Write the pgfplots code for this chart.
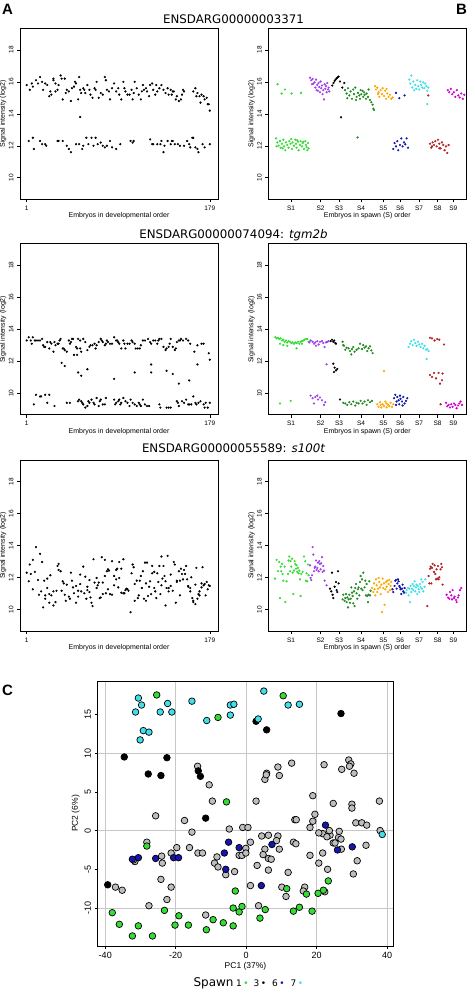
\documentclass[border=0pt]{standalone}
\usepackage{pgfplots}
\pgfplotsset{compat=1.18}
\usepackage{fontspec}
\setmainfont{Liberation Sans}
\newfontfamily\djv{DejaVu Sans}
\definecolor{sA}{HTML}{33DD33}
\definecolor{sB}{HTML}{A040E8}
\definecolor{sD}{HTML}{228B22}
\definecolor{sE}{HTML}{FFA500}
\definecolor{sF}{HTML}{1515B0}
\definecolor{sG}{HTML}{3FE0EC}
\definecolor{sH}{HTML}{B22222}
\definecolor{sI}{HTML}{CD00CD}
\definecolor{pcgrey}{HTML}{BEBEBE}

\pgfplotsset{
  sig/.style={scale only axis, width=198pt, height=171pt, anchor=south west,
    ymin=8.65, ymax=19.35, ytick={10,12,14,16,18}, yticklabels={10,12,14,16,18},
    tick align=outside, xtick pos=bottom, ytick pos=left,
    major tick length=3pt,
    axis line style={line width=0.8pt},
    every tick/.style={black, line width=0.5pt},
    tick label style={font=\fontsize{6.5}{7}\selectfont},
    yticklabel style={rotate=90, anchor=south},
    label style={font=\fontsize{7}{8}\selectfont},
    ylabel={Signal intensity (log2)},
    ylabel style={at={(axis description cs:-0.085,0.5)}, anchor=center},
    xlabel style={at={(axis description cs:0.5,-0.098)}, anchor=center}},
  dev/.style={sig, xmin=-5.5, xmax=187, xtick={1,179}, xticklabels={1,179},
    xlabel={Embryos in developmental order}},
  spw/.style={sig, xmin=0, xmax=198,
    xtick={22.7,52.3,70.7,92.7,115,131.7,150.7,169.3,185},
    xticklabels={S1,S2,S3,S4,S5,S6,S7,S8,S9},
    xlabel={Embryos in spawn (S) order}},
  dot/.style={only marks, mark=*, mark size=0.9pt, color=#1,
    mark options={draw=#1, fill=#1}},
  dot/.default=black,
  pc/.style={only marks, mark=*, mark size=3.3pt,
    mark options={draw=black, line width=0.7pt, fill=#1}},
}

\begin{document}
\begin{tikzpicture}[x=1pt,y=1pt]
\useasboundingbox (0,0) rectangle (467,-990);

% ---------- row 1 ----------
\node[font=\bfseries\fontsize{15}{16}\selectfont] at (7.5,-9.5) {A};
\node[font=\bfseries\fontsize{15}{16}\selectfont] at (461.5,-9.5) {B};
\node[font=\djv\fontsize{11.8}{13}\selectfont] at (233.5,-19) {ENSDARG00000003371};

\begin{axis}[dev, at={(20pt,-199.3pt)}]
\addplot[dot] coordinates {
(1,15.8)(4,15.5)(6,15.9)(7,15.7)(10,16.1)(12,15.9)(14,16.3)(16,16.0)(17,15.5)(19,15.9)
(21,15.8)(23,15.1)(24,15.4)(25,15.2)(27,16.1)(27,16.2)(29,15.4)(29,15.9)(31,15.5)(32,15.8)
(34,16.4)(35,16.2)(36,14.9)(38,16.2)(39,15.3)(40,15.5)(42,15.4)(44,14.8)(45,15.6)(47,15.7)
(48,16.0)(49,15.9)(51,14.9)(52,16.3)(53,15.5)(54,15.3)(56,15.6)(57,15.5)(58,15.3)(60,15.8)
(62,15.5)(63,15.2)(65,15.0)(67,15.6)(68,15.5)(69,16.0)(71,15.0)(73,15.3)(75,15.2)(77,16.3)
(78,16.1)(79,15.5)(81,15.4)(82,14.9)(84,15.6)(86,15.9)(88,15.4)(90,15.6)(91,15.2)(93,14.9)
(95,16.0)(96,15.6)(97,15.4)(99,15.2)(101,15.2)(103,15.5)(104,14.9)(105,15.3)(106,16.0)(108,15.6)
(110,15.2)(112,14.9)(113,15.4)(114,15.8)(115,15.5)(117,15.6)(118,15.4)(120,15.1)(121,15.8)(123,15.9)
(124,15.5)(126,15.2)(127,15.8)(128,15.4)(130,15.6)(132,15.8)(134,15.5)(136,15.3)(138,15.6)(139,15.2)
(141,15.5)(142,15.2)(143,15.4)(144,15.4)(146,14.9)(147,15.1)(149,14.8)(151,14.9)(152,15.2)(153,15.5)
(154,15.4)(163,15.4)(165,15.6)(166,15.1)(167,15.3)(169,15.1)(170,14.7)(171,15.2)(173,15.1)(174,14.9)
(176,15.0)(177,14.6)(178,14.6)(179,14.2)(53,13.8)
(3,12.3)(7,12.5)(8,11.8)(14,12.3)(16,12.1)(19,12.1)(20,12.0)(31,12.3)(32,12.3)(36,12.3)
(40,12.0)(42,11.8)(44,11.6)(49,12.1)(52,12.1)(55,11.8)(56,12.0)(59,12.5)(61,12.1)(64,12.5)
(66,12.0)(68,12.5)(70,12.1)(73,12.2)(75,12.0)(77,11.9)(79,12.0)(82,12.3)(84,11.9)(88,11.8)
(92,12.1)(102,12.3)(104,12.2)(105,12.3)(121,12.4)(123,12.1)(124,12.1)(128,12.1)(131,12.1)(132,12.3)
(134,11.6)(135,12.0)(138,12.3)(141,12.1)(142,12.3)(143,12.3)(145,12.1)(148,12.1)(150,12.0)(154,12.0)
(157,12.3)(159,12.1)(160,11.9)(162,12.5)(163,12.5)(165,11.9)(167,11.8)(168,11.6)(172,12.1)(174,11.9)
(179,12.1)
};
\end{axis}

\begin{axis}[spw, at={(268.3pt,-199.3pt)}]
\addplot[dot=sA] coordinates {
(9.3,15.85)(13.3,15.27)(16.7,15.52)(23.3,15.27)(32.7,15.31)
(7.7,12.46)(9,12.21)(10.3,12.01)(11.7,12.29)(12.3,11.88)(13.7,12.13)(15,12.38)(15.7,11.96)(17,11.72)
(17.7,12.21)(19,12.05)(20.3,11.88)(21,12.29)(22.3,12.13)(23.7,11.80)(24.3,12.21)(25.7,12.01)(27,12.38)
(27.7,12.13)(28.3,11.88)(29.7,12.25)(30.3,11.72)(31.7,12.05)(32.3,12.29)(33.7,11.96)(34.3,12.17)
(35.7,11.80)(37,12.29)(37.7,12.05)(38.3,11.92)(39.7,12.17)(40.3,11.84)(8.3,11.96)(14.3,11.84)
(23,12.42)(29,12.34)(35,12.25)(39,11.72)
};
\addplot[dot=sB] coordinates {
(41.7,16.26)(43,16.10)(44.3,16.18)(45,15.89)(46.3,15.97)(47,15.64)(47.7,16.14)(49,15.81)(49.7,15.44)
(50.3,15.93)(51,15.68)(51.7,15.35)(52.3,16.02)(53,15.60)(53.7,15.77)(54.3,15.23)(55,15.48)(55.7,14.90)
(56.3,15.85)(57,15.56)(57.7,15.73)(58.3,15.35)(59,15.93)(59.7,15.52)(60.3,15.64)(61,15.40)(43.7,15.85)
(48.3,15.48)
};
\addplot[dot] coordinates {
(64,15.77)(65.3,15.93)(66.3,16.06)(67.3,16.14)(68.3,16.22)(69.3,16.28)(70.3,16.33)(71.7,16.02)
(74,15.64)(76,15.93)(72.7,13.78)
};
\addplot[dot=sD] coordinates {
(76.7,15.48)(78.3,15.27)(79.7,15.60)(81,15.15)(82.3,15.40)(83.7,14.94)(85,15.52)(85.7,15.23)(87,15.64)
(88.3,15.06)(89.7,15.31)(91,15.15)(91.7,14.94)(93,15.23)(94.3,15.44)(95,15.06)(96.3,15.19)(97.7,14.94)
(98.3,15.27)(99.7,15.06)(100.3,15.52)(101.7,14.86)(103,14.73)(104.3,14.57)(105,14.32)(105.7,14.24)
(87.7,14.86)(92.3,15.48)(95.7,15.35)(79,14.98)(89.3,12.52)
};
\addplot[dot=sE] coordinates {
(106.7,15.73)(107.7,15.52)(109,15.64)(110.3,15.35)(111,15.06)(112.3,15.48)(113.7,15.23)(114.3,15.60)
(115.7,15.11)(117,15.44)(117.7,14.94)(119,15.27)(120.3,15.06)(121.7,15.19)(123,14.94)(124.3,15.02)
(109.7,15.23)(118.3,15.56)
};
\addplot[dot=sF] coordinates {
(127.7,15.31)(131,14.98)(136.3,15.15)
(125,11.80)(126.3,12.17)(127.7,11.96)(129,12.29)(130,11.72)(131.7,12.05)(133,12.46)(134.3,11.96)
(135.7,12.21)(137,12.09)(138.3,12.46)(139.7,11.88)
};
\addplot[dot=sG] coordinates {
(141,16.14)(142,15.89)(143,16.39)(144,15.64)(145,16.02)(146,15.48)(147,15.81)(148,15.56)(149,16.10)
(150,15.73)(151,15.52)(152,16.02)(153,15.81)(154,15.64)(155,15.97)(156,15.60)(157,15.89)(158,15.73)
(159,15.44)(160,15.64)(159,14.61)
};
\addplot[dot=sH] coordinates {
(160,15.15)
(161.7,12.13)(163,11.88)(164.3,12.21)(165.7,12.05)(167,12.29)(168.3,11.96)(169.7,12.38)(171,12.13)
(172.3,11.84)(173.7,12.21)(175,12.05)(176.3,11.72)(177.7,11.96)(179,11.55)(180.3,12.05)(163.7,11.96)
(171,11.84)
};
\addplot[dot=sI] coordinates {
(179.5,15.48)(181,15.35)(182.5,15.56)(184,15.23)(185.5,15.35)(187,15.06)(188.5,15.48)(190,15.15)
(191.5,15.02)(193,15.27)(194.5,14.94)(196,15.19)
};
\end{axis}

% ---------- row 2 ----------
\node[font=\djv\fontsize{11.8}{13}\selectfont] at (233.5,-235) {ENSDARG00000074094: \itshape tgm2b};

\begin{axis}[dev, at={(20pt,-414.8pt)}]
\addplot[dot] coordinates {
(1,13.3)(3,13.5)(5,13.3)(6,13.1)(7,13.5)(9,13.3)(10,13.3)(12,13.3)(14,13.3)(16,13.4)
(17,13.0)(18,12.9)(19,12.9)(21,13.2)(23,12.8)(24,13.2)(25,13.1)(27,12.6)(28,13.2)(29,13.0)
(31,13.1)(32,13.1)(33,13.3)(34,13.4)(36,12.8)(37,12.8)(38,12.7)(40,12.6)(42,13.3)(43,13.1)
(44,13.2)(45,13.4)(46,13.4)(47,12.4)(49,12.9)(50,12.8)(51,13.4)(53,13.3)(53,12.8)(54,12.6)
(56,13.4)(58,13.2)(60,12.7)(62,12.9)(63,13.0)(65,13.0)(67,13.1)(68,12.8)(69,13.0)(71,13.2)
(73,13.4)(74,13.3)(75,13.2)(77,13.0)(78,13.1)(79,13.3)(80,13.2)(82,13.1)(84,13.1)(86,13.5)
(88,13.3)(89,13.3)(90,13.2)(91,13.1)(93,12.8)(95,13.3)(96,13.1)(97,12.8)(99,13.1)(101,13.1)
(103,13.3)(104,13.2)(106,13.1)(107,12.8)(109,12.8)(111,12.8)(112,13.0)(114,13.3)(116,13.3)(119,13.4)
(121,13.2)(122,13.1)(124,13.3)(126,13.3)(128,13.1)(129,13.3)(130,13.4)(132,13.4)(134,12.9)(136,12.7)
(137,12.8)(139,12.9)(140,13.1)(141,13.4)(143,12.9)(145,12.7)(146,12.8)(147,13.2)(149,13.3)(150,13.3)
(151,13.4)(153,13.3)(156,13.4)(158,13.3)(160,13.1)(164,12.6)(167,13.0)(171,13.1)(173,13.1)(178,12.5)
(179,12.1)
(35,11.9)(38,11.7)(50,12.4)(51,11.3)(54,11.1)(60,11.5)(86,10.9)(106,11.3)(122,11.8)(122,11.3)
(137,11.4)(143,11.2)(149,10.6)(159,10.8)(167,11.8)
(8,9.3)(10,9.9)(14,9.8)(15,9.8)(19,9.9)(21,9.4)(23,9.9)(28,9.2)(40,9.4)(43,9.4)
(51,9.5)(52,9.6)(54,9.5)(55,9.4)(56,9.3)(58,9.1)(60,9.2)(61,9.5)(62,9.4)(64,9.6)
(66,9.4)(67,9.3)(69,9.7)(71,9.2)(72,9.5)(73,9.6)(75,9.3)(77,9.3)(78,9.7)(86,9.6)
(87,9.3)(88,9.4)(90,9.5)(91,9.6)(92,9.3)(93,9.4)(95,9.7)(97,9.5)(99,9.4)(101,9.2)
(102,9.6)(104,9.4)(106,9.3)(108,9.2)(110,9.4)(111,9.3)(112,9.2)(114,9.6)(116,9.3)(118,9.2)
(120,9.2)(130,9.3)(131,9.1)(137,9.1)(139,9.1)(141,9.1)(147,9.5)(148,9.4)(149,9.2)(152,9.5)
(154,9.4)(156,9.6)(158,9.3)(159,9.3)(161,9.3)(163,9.8)(165,9.4)(166,9.3)(168,9.4)(170,9.5)
(173,9.3)(174,9.1)(175,9.4)(177,9.1)(179,9.4)
};
\end{axis}

\begin{axis}[spw, at={(268.3pt,-414.8pt)}]
\addplot[dot=sA] coordinates {
(7,13.51)(8.3,13.43)(9.7,13.47)(11,13.39)(12.3,13.43)(13.7,13.30)(15,13.35)(16.3,13.22)(17.7,13.30)
(19,13.18)(20.3,13.26)(21.7,13.22)(23,13.14)(24.3,13.18)(25.7,13.10)(27,13.18)(28.3,13.14)(29.7,13.22)
(31,13.10)(32.3,13.22)(33.7,13.26)(35,13.30)(36.3,13.35)(37.7,13.39)(39,13.39)(15,13.01)(19,12.97)
(11.7,13.10)(28.3,12.81)(33.7,13.10)(40.3,13.22)
(11.7,9.36)(22.3,9.52)
};
\addplot[dot=sB] coordinates {
(41,13.18)(42.3,13.30)(44.3,13.22)(45.7,13.10)(47,13.18)(47.7,12.97)(49,13.26)(50.3,13.05)(51.7,13.22)
(53.7,13.26)(55,13.14)(56.3,12.89)(57.7,13.18)(59,13.22)(60.3,13.26)
(58.3,11.81)
(42.3,9.85)(44.3,9.69)(45.7,9.36)(47,9.77)(49.7,9.61)(51.7,9.73)(53.7,9.56)(55.7,9.27)(57,9.44)(49,9.85)
};
\addplot[dot] coordinates {
(62.3,13.26)(63.7,13.35)(65,13.22)(66,13.30)(67,13.14)(67.7,13.10)
(65,11.85)(66.3,11.60)(67.7,11.43)(69,11.52)(65.7,11.33)(71.7,9.61)
};
\addplot[dot=sD] coordinates {
(74.3,13.22)(75.7,12.97)(77,12.72)(78.3,12.85)(80.3,12.81)(81.7,12.64)(83.7,12.76)(85,12.89)(86.3,12.60)
(88.3,12.72)(90.3,12.81)(91.7,13.10)(93.7,12.76)(95,13.01)(96.3,12.85)(97.7,12.93)(99,12.64)(100.3,12.81)
(101.7,12.93)(103,12.68)(104.3,12.51)(83,12.43)(75,13.01)
(75,9.40)(77,9.36)(79,9.27)(81,9.44)(83,9.31)(85,9.48)(87,9.23)(88.3,9.40)(90.3,9.36)(92.3,9.52)
(94.3,9.36)(96.3,9.48)(98.3,9.27)(99.7,9.56)(101.7,9.44)(103.7,9.52)
};
\addplot[dot=sE] coordinates {
(109,9.31)(110.3,9.15)(111.7,9.44)(113,9.11)(114.3,9.31)(115.7,9.19)(117,9.48)(118.3,9.11)(119.7,9.27)
(121,9.19)(122.3,9.40)(123.7,9.15)(125,9.31)(112.3,9.27)(118.3,9.36)(115.7,11.39)
};
\addplot[dot=sF] coordinates {
(125.7,9.69)(127,9.90)(128.3,9.48)(129,9.77)(130.3,9.56)(131,9.31)(132.3,9.65)(133.7,9.48)(135,9.77)
(136.3,9.36)(137.7,9.52)(139,9.69)(127.7,9.27)(131.7,9.85)(134.3,9.23)
};
\addplot[dot=sG] coordinates {
(140.3,12.89)(141.7,13.10)(143,13.26)(144.3,13.01)(145.7,13.35)(147,13.14)(148.3,12.97)(149.7,13.22)
(151,13.05)(152.3,12.89)(153.7,13.10)(155,12.81)(156.3,12.97)(157.7,12.72)(159,12.76)(160.3,12.64)
(158.3,12.14)
};
\addplot[dot=sH] coordinates {
(161.7,13.47)(163.7,13.43)(166.3,13.30)(169,13.39)(171,13.35)(175.7,13.05)
(161.7,11.14)(163.7,11.02)(165.7,11.27)(167.7,10.93)(170.3,11.27)(171.7,10.60)(173.7,10.81)(174.3,11.23)
(172.3,9.31)
};
\addplot[dot=sI] coordinates {
(177.7,9.40)(179,9.19)(180.3,9.27)(181.7,9.11)(183,9.31)(184.3,9.15)(185.7,9.36)(187,9.27)(188.3,9.06)
(189.7,9.23)(191,9.36)(192.3,9.48)(193.7,9.27)
};
\end{axis}

% ---------- row 3 ----------
\node[font=\djv\fontsize{11.8}{13}\selectfont] at (233.5,-448) {ENSDARG00000055589: \itshape s100t};

\begin{axis}[dev, at={(20pt,-631pt)}]
\addplot[dot] coordinates {
(1,12.30)(3,11.76)(4,12.81)(5,12.22)(7,11.26)(7,13.10)(9,12.35)(10,13.90)(12,11.84)(13,10.92)
(14,13.48)(15,11.13)(16,12.97)(17,10.13)(18,11.80)(19,10.88)(19,10.67)(21,11.34)(21,11.93)(23,10.96)
(23,10.42)(24,12.14)(25,10.88)(27,11.13)(27,10.25)(29,10.46)(30,11.17)(31,12.72)(32,12.47)(32,12.85)
(34,12.39)(35,11.17)(36,11.76)(37,11.63)(38,10.92)(39,10.54)(40,11.55)(42,10.80)(43,10.67)(44,12.30)
(45,11.80)(46,11.38)(47,11.01)(49,10.42)(49,11.47)(51,11.17)(51,10.80)(53,11.59)(53,12.18)(54,11.13)
(56,12.68)(57,11.01)(58,12.05)(59,10.67)(60,11.42)(60,11.21)(62,11.84)(62,11.09)(63,10.75)(64,10.42)
(65,10.21)(66,13.14)(67,11.68)(69,11.97)(69,11.34)(70,11.51)(71,11.68)(72,10.71)(73,10.75)(74,13.27)
(75,11.68)(75,10.96)(77,13.10)(77,12.09)(78,11.01)(79,12.39)(80,12.51)(80,11.26)(81,12.43)(82,10.96)
(84,13.02)(84,10.92)(86,11.51)(86,12.09)(88,11.88)(88,12.47)(89,12.55)(90,11.38)(91,11.97)(91,12.97)
(93,12.55)(93,11.05)(95,11.01)(95,13.14)(96,11.01)(97,11.21)(98,11.30)(99,11.26)(100,11.17)(102,9.83)
(103,12.26)(104,12.81)(105,12.64)(106,10.54)(106,11.59)(108,11.80)(109,10.71)(110,10.88)(111,11.80)(112,12.09)
(113,11.34)(114,12.39)(115,10.67)(116,12.93)(117,11.63)(117,10.54)(118,12.93)(119,10.84)(120,11.42)(121,11.76)
(122,10.96)(123,12.26)(123,12.72)(125,11.34)(125,12.35)(126,11.13)(127,10.71)(128,12.26)(129,11.72)(130,12.72)
(131,10.96)(132,11.51)(132,13.31)(133,11.93)(134,12.72)(135,12.09)(136,11.76)(136,10.25)(137,11.34)(138,13.35)
(139,11.34)(139,11.13)(141,12.18)(141,11.47)(143,11.17)(144,12.97)(145,12.81)(146,10.42)(147,11.80)(147,11.72)
(149,12.39)(150,11.80)(150,10.88)(151,12.55)(152,12.22)(153,11.88)(154,12.47)(155,12.22)(156,12.72)(157,11.88)
(158,11.47)(158,11.42)(160,11.13)(160,11.34)(161,12.01)(162,10.71)(163,10.54)(163,10.46)(165,11.55)(165,10.33)
(166,12.60)(167,10.67)(168,10.96)(169,10.88)(169,11.13)(171,11.63)(171,11.38)(172,12.64)(173,11.51)(174,11.59)
(175,10.88)(176,11.72)(177,11.26)(178,11.51)(179,11.47)
};
\end{axis}

\begin{axis}[spw, at={(268.3pt,-631pt)}]
\addplot[dot=sA] coordinates {
(6.7,11.93)(8.3,13.10)(9.7,12.39)(11,12.97)(11.7,10.71)(12.3,12.68)(13,12.39)(13.7,12.85)(14.3,12.22)
(15,11.80)(16.3,12.68)(17,10.46)(18.3,11.76)(19.7,12.22)(20.3,13.06)(21,13.31)(21.7,12.39)(22.3,13.02)
(23,12.68)(23.7,13.18)(24.3,12.30)(25,10.96)(25.7,12.43)(26.3,13.02)(27,12.85)(27.7,12.55)(28.3,12.76)
(29,12.35)(29.7,12.60)(30.3,12.26)(31,12.43)(31.7,11.88)(32.3,10.84)(33,12.22)(34.3,12.35)(35.7,13.31)
(37,13.02)(37.7,11.80)(38.3,12.26)(39,11.76)(39.7,12.81)(40.3,12.14)
};
\addplot[dot=sB] coordinates {
(41.7,12.76)(42.3,11.97)(43,11.84)(43.7,12.14)(44.3,13.90)(45,13.43)(45.7,12.39)(46.3,12.60)(47,12.68)
(47.7,13.06)(48.3,12.47)(49,12.60)(49.7,12.93)(50.3,12.39)(51,13.02)(51.7,12.85)(52.3,12.51)(53,12.89)
(53.7,13.27)(54.3,12.35)(55,12.72)(56.3,11.80)(58.3,11.51)(55.7,12.43)
};
\addplot[dot] coordinates {
(61.7,11.30)(63,11.13)(63.7,12.30)(64.3,10.92)(65,10.71)(66.3,11.42)(67.7,11.72)(68.3,11.21)(69.7,12.39)
(70.3,11.63)(69,11.09)
};
\addplot[dot=sD] coordinates {
(74.3,10.63)(75,10.92)(76.3,10.54)(77,10.71)(77.7,10.96)(78.3,10.46)(79,10.75)(79.7,10.13)(80.3,10.63)
(81,10.92)(81.7,10.42)(82.3,10.67)(83,11.38)(83.7,11.05)(84.3,10.84)(85,10.38)(85.7,11.13)(86.3,10.21)
(87,11.34)(87.7,11.59)(88.3,11.01)(89,10.67)(89.7,11.26)(90.3,11.38)(91,10.88)(91.7,11.72)(92.3,12.09)
(93,11.30)(93.7,11.88)(94.3,11.21)(95,12.30)(96.3,11.38)(97,11.80)(97.7,10.88)(98.3,11.59)(99,10.84)
(99.7,10.46)(100.3,10.92)(101,11.76)(101.7,10.88)(102.3,11.17)
};
\addplot[dot=sE] coordinates {
(103.7,11.34)(105,11.09)(105.7,11.63)(106.3,11.26)(107,10.88)(107.7,11.88)(108.3,11.51)(109,11.09)
(109.7,11.30)(110.3,11.97)(111,11.72)(111.7,11.38)(112.3,10.96)(113,11.55)(113.7,9.83)(114.3,11.93)
(115,11.34)(115.7,11.63)(116.3,10.29)(117,11.26)(117.7,11.72)(118.3,11.42)(119,11.80)(119.7,11.09)
(120.3,11.59)(121,11.84)(121.7,11.21)(122.3,11.47)(123,11.72)(123.7,11.26)
};
\addplot[dot=sF] coordinates {
(124.3,11.26)(125,11.09)(126.3,11.47)(127,11.80)(127.7,11.84)(128.3,11.30)(129,11.63)(129.7,11.88)
(130.3,11.76)(131,11.47)(131.7,11.38)(132.3,11.26)(133,10.96)(133.7,11.30)(134.3,11.55)(135,11.13)
(135.7,11.05)(136.3,11.34)
};
\addplot[dot=sG] coordinates {
(137.7,11.05)(138.3,11.21)(139.7,11.34)(140.3,10.88)(141,11.30)(141.7,10.46)(142.3,11.47)(143,11.09)
(143.7,11.30)(144.3,11.59)(145,11.21)(145.7,11.47)(146.3,11.76)(147,11.13)(147.7,11.38)(148.3,11.55)
(149,10.96)(149.7,11.47)(150.3,11.26)(151,11.09)(151.7,11.59)(152.3,11.38)(153,11.88)(153.7,11.30)
(154.3,11.72)(155,11.13)(156.3,11.42)(157,11.88)
};
\addplot[dot=sH] coordinates {
(159,10.21)(160.3,12.09)(161,11.63)(161.7,12.55)(162.3,12.68)(163,11.63)(163.7,12.60)(164.3,12.85)
(165.7,12.35)(166.3,12.76)(167,12.22)(167.7,11.88)(168.3,12.51)(169,11.93)(169.7,12.72)(170.3,11.88)
(171,12.01)(172.3,12.51)(173,12.85)(173.7,12.64)(174.3,11.55)
};
\addplot[dot=sI] coordinates {
(178.3,10.92)(179.7,10.75)(181,10.67)(181.7,11.09)(183,10.88)(183.7,10.63)(184.3,11.21)(185.7,10.71)
(186.3,10.80)(187.7,10.59)(188.3,10.46)(189.7,10.75)(190.3,10.88)(191.7,11.21)(193,11.34)
};
\end{axis}

% ---------- panel C ----------
\node[font=\bfseries\fontsize{15}{16}\selectfont] at (7.5,-690.5) {C};

\begin{axis}[scale only axis, width=296pt, height=265pt, at={(97.5pt,-946pt)}, anchor=south west,
  xmin=-42.2, xmax=41.8, ymin=-14.9, ymax=19.3,
  xtick={-40,-20,0,20,40}, xticklabels={-40,-20,0,20,40},
  ytick={-10,-5,0,5,10,15}, yticklabels={-10,-5,0,5,10,15},
  xmajorgrids,
  extra y ticks={-10,0,10}, extra y tick labels={},
  extra y tick style={ymajorgrids=true, major tick length=0pt},
  grid style={line width=0.9pt, black!22},
  tick align=outside, xtick pos=bottom, ytick pos=left,
  major tick length=3pt,
  axis line style={line width=0.8pt},
  every tick/.style={black, line width=0.5pt},
  tick label style={font=\fontsize{9}{10}\selectfont},
  yticklabel style={rotate=90, anchor=south},
  label style={font=\fontsize{8.5}{9}\selectfont},
  xlabel={PC1 (37\%)}, ylabel={PC2 (6\%)},
  xlabel style={at={(axis description cs:0.5,-0.075)}, anchor=center},
  ylabel style={at={(axis description cs:-0.074,0.5)}, anchor=center}]
\addplot[pc=pcgrey] coordinates {
(-13.8,8.3)(-10.5,5.9)(-9.6,3.8)
(12.9,8.7)(9.0,8.2)(9.4,7.1)(5.8,7.4)(5.3,6.6)(5.7,7.2)(22.1,8.5)(29.1,9.1)(29.7,8.6)(27.1,7.9)
(30.6,7.4)(29.3,8.3)(18.9,4.5)(2.8,3.8)(24.7,3.5)(30.0,3.4)(30.0,2.9)(37.8,3.8)
(-25.7,1.9)(-17.5,1.3)(-15.4,-0.2)(-4.8,0.2)(-1.0,0.4)
(-37.1,-7.3)(-35.2,-7.7)(-28.2,-1.5)(-24.0,-3.3)(-23.8,-4.2)(-19.7,-2.2)(-21.3,-2.9)(-16.1,-2.2)
(-13.7,-2.9)(-12.4,-2.9)(-8.3,-3.4)(-9.0,-4.2)(-8.0,-4.7)(-5.8,-5.7)(-3.3,-5.3)(-2.0,-3.2)(-31.6,-4.0)
(-32.0,-3.8)(-24.2,-6.3)(-21.3,-7.3)(-22.5,-8.9)(-27.6,-9.7)(-11.5,-10.9)(-1.2,-3.2)
(13.8,1.4)(14.2,1.4)(19.5,2.1)(18.9,1.2)(18.1,0.4)(21.7,-0.4)(23.8,-0.6)(26.4,-0.1)(26.2,-0.9)
(24.7,-1.6)(27.0,-2.4)(31.1,1.0)(32.8,1.0)(34.2,0.7)(38.0,0.0)(34.0,-1.9)(31.5,-3.9)(30.4,-5.6)
(0.5,0.4)(4.4,-0.7)(6.3,-0.6)(9.0,-0.7)(8.6,-1.3)(1.2,-1.5)(-0.1,-2.3)(-0.1,-2.9)(5.3,-2.4)(4.8,-3.1)
(6.3,-3.6)(7.1,-3.7)(9.4,-2.4)(13.4,-1.5)(14.1,-1.7)(18.1,-3.2)(21.7,-2.9)(20.6,-4.2)(23.1,-5.0)
(3.1,-4.5)(6.3,-5.1)(11.9,-5.4)(1.2,-7.1)(10.1,-7.3)(11.3,-8.5)(16.6,-7.3)(16.2,-7.8)(3.5,-9.7)
(22.3,-7.9)(20.6,-0.3)(23.6,0.0)(25.2,-1.6)(26.9,-1.1)(22.9,-0.8)
};
\addplot[pc=sA] coordinates {
(-25.4,17.5)(-8.0,14.6)(10.5,17.4)(-5.6,3.7)(-28.2,-2.0)(-38.0,-10.6)(-36.0,-12.1)(-32.3,-13.6)
(-30.6,-12.3)(-26.6,-13.6)(-23.2,-10.3)(-19.1,-11.0)(-20.2,-12.2)(-16.4,-12.2)(-11.3,-12.8)(-9.4,-11.5)
(-6.5,-11.9)(-3.7,-12.3)(-3.7,-10.0)(-2.0,-10.5)(-3.1,-7.8)(-1.2,-9.8)(23.3,-6.5)(21.9,-7.7)(20.4,-8.1)
(17.1,-8.2)(11.5,-7.5)(5.4,-10.2)(3.9,-11.3)(13.4,-10.4)(15.1,-9.9)(18.7,-10.4)
};
\addplot[pc=black] coordinates {
(-34.6,9.5)(-22.5,9.4)(-27.8,7.3)(-24.2,7.1)(-13.6,7.7)(-13.0,7.0)(-11.5,1.6)(-39.3,-7.0)(26.9,15.1)
(2.8,14.1)(5.8,13.0)
};
\addplot[pc=sF] coordinates {
(-32.3,-3.7)(-30.6,-3.5)(-25.7,-3.6)(-20.6,-3.5)(-19.2,-3.5)(-5.0,-1.5)(-6.2,-2.9)(-2.0,-2.2)(-5.8,-5.0)
(22.5,0.7)(7.3,-1.8)(25.9,-2.5)(30.1,-2.1)(4.3,-7.1)
};
\addplot[pc=sG] coordinates {
(-30.6,17.1)(-29.7,16.2)(-31.4,15.3)(-22.3,16.4)(-24.4,15.3)(-21.1,15.3)(-29.2,12.9)(-27.6,12.7)
(-30.1,11.7)(-15.4,16.7)(-11.2,14.2)(-4.5,14.9)(-4.5,16.2)(-3.5,16.3)(5.0,18.0)(11.9,16.2)(15.1,16.3)
(3.4,14.4)(38.6,-0.5)
};
\end{axis}

% legend of panel C
\node[anchor=base west, font=\djv\fontsize{12}{13}\selectfont] at (190,-986) {Spawn};
\node[anchor=base west, font=\djv\fontsize{9}{10}\selectfont] at (232.5,-986)
  {1\,{\color{sA}•}\hspace{5pt}3\,{\color{black}•}\hspace{6pt}6\,{\color{sF}•}\hspace{6pt}7\,{\color{sG}•}};
\end{tikzpicture}
\end{document}
